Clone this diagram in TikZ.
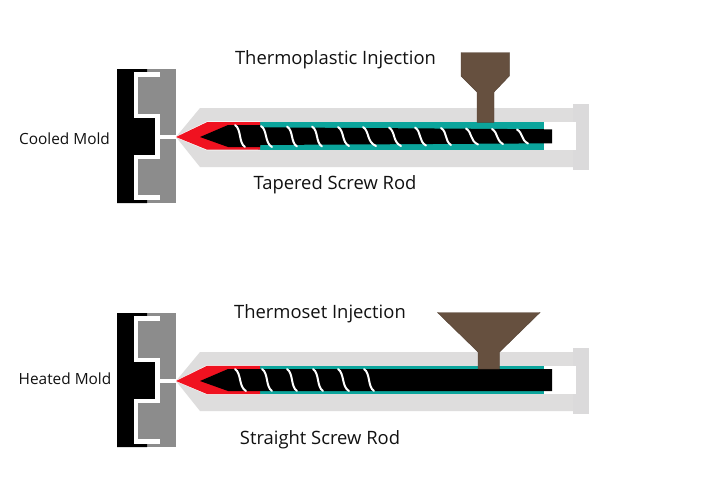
\documentclass[tikz,border=0pt]{standalone}
\usepackage{fontspec}
\setmainfont{Open Sans}
\definecolor{barrelgray}{HTML}{DEDDDD}
\definecolor{capgray}{HTML}{DBDADB}
\definecolor{moldgray}{HTML}{8C8C8C}
\definecolor{tealc}{HTML}{0BA59C}
\definecolor{redc}{HTML}{F01220}
\definecolor{brownc}{HTML}{66503F}
\definecolor{textc}{HTML}{111111}
\tikzset{
  channel/.style={draw=white,line width=4.6pt,line join=miter},
  spiral/.style={draw=white,line width=2pt,line cap=round},
  biglabel/.style={text=textc,inner sep=0pt,font=\fontsize{18.4}{22}\selectfont},
  smalllabel/.style={text=textc,inner sep=0pt,font=\fontsize{15.4}{18}\selectfont},
  hopper/.style={fill=brownc,draw=brownc!80!black,line width=0.4pt}
}
\newcommand{\machine}{%
  % mold
  \fill[moldgray] (135,69) rectangle (176,203);
  \fill[black] (117,69) -- (147,69) -- (147,73) -- (136,73) -- (136,115) -- (157,115) -- (157,157)
     -- (136,157) -- (136,199) -- (147,199) -- (147,203) -- (117,203) -- cycle;
  \draw[channel] (160,74.7) -- (135.8,74.7) -- (135.8,115.8) -- (157.5,115.8) -- (157.5,157)
     -- (135.8,157) -- (135.8,197.5) -- (160,197.5);
  \fill[white] (157.5,134.9) rectangle (176,139.3);
  % barrel
  \fill[barrelgray] (176,137) -- (200,108) -- (574,108) -- (574,167) -- (200,167) -- cycle;
  \fill[capgray] (573,104) rectangle (589,170);
  \fill[white] (540,122) rectangle (576,150);
}
\newcommand{\twist}[4]{%
  \draw[spiral] (#1,#3) .. controls (#1+6.5,#3+4) and (#1+3.5,#4-4) .. (#2,#4);}
\begin{document}
\begin{tikzpicture}[x=1pt,y=-1pt]
\useasboundingbox (0,0) rectangle (706,499);
\fill[white] (0,0) rectangle (706,499);

% ---------- upper machine ----------
\begin{scope}
  \machine
  \fill[tealc] (258,122.3) rectangle (544,149.6);
  \draw[white,line width=0.7pt] (176,137) -- (207,121.8) -- (260,121.8);
  \draw[white,line width=0.7pt] (176,137) -- (207,150) -- (260,150);
  \fill[redc] (176,137) -- (207,122.2) -- (260,122.2) -- (260,149.6) -- (207,149.6) -- cycle;
  \fill[black] (200,137) -- (228,125) -- (260,125) -- (260,127.3) -- (552,129.3) -- (552,143.3)
     -- (260,145) -- (260,147) -- (228,147) -- cycle;
  \foreach \s/\t/\u/\v in {235/245/125/147,261/272/126/147,287/297/126.5/146.5,312/322/126.5/146.5,
     338/349/127/146,363/376/127/146,389/401/127.5/146,415/426/127.5/145.5,441/451/128/145,
     466/478/128.5/144.5,492/503/129/144,517/528/129.5/143.5}{
    \twist{\s}{\t}{\u}{\v}
  }
  \fill[hopper] (461,52.5) -- (509.3,52.5) -- (509.3,76) -- (494,92) -- (494,122.3) -- (477,122.3)
     -- (477,92) -- (461,76) -- cycle;
\end{scope}

% ---------- lower machine ----------
\begin{scope}[yshift=-244pt]
  \machine
  \fill[tealc] (258,121.8) rectangle (544,150);
  \draw[white,line width=0.7pt] (176,137) -- (207,121.6) -- (260,121.6);
  \draw[white,line width=0.7pt] (176,137) -- (207,150.2) -- (260,150.2);
  \fill[redc] (176,137) -- (207,121.8) -- (260,121.8) -- (260,150) -- (207,150) -- cycle;
  \fill[black] (200,137) -- (228,125) -- (552,125) -- (552,147) -- (228,147) -- cycle;
  \foreach \s/\t in {235/246,262/272,287/297,313/323,338/349,364/374}{
    \twist{\s}{\t}{125}{147}
  }
  \fill[hopper] (437.5,68.5) -- (540,68.5) -- (499.5,108) -- (499.5,125) -- (478,125) -- (478,108) -- cycle;
\end{scope}

% ---------- labels ----------
\node[biglabel,anchor=center] (ttitle) at (335.5,60) {Thermoplastic Injection};
\node[biglabel,anchor=center] (trod) at (335,185) {Tapered Screw Rod};
\node[smalllabel,anchor=center] (tmold) at (64.5,139) {Cooled Mold};
\node[biglabel,anchor=center] (btitle) at (320,314) {Thermoset Injection};
\node[biglabel,anchor=center] (brod) at (320,440) {Straight Screw Rod};
\node[smalllabel,anchor=center] (bmold) at (65,378.5) {Heated Mold};
\end{tikzpicture}
\end{document}
